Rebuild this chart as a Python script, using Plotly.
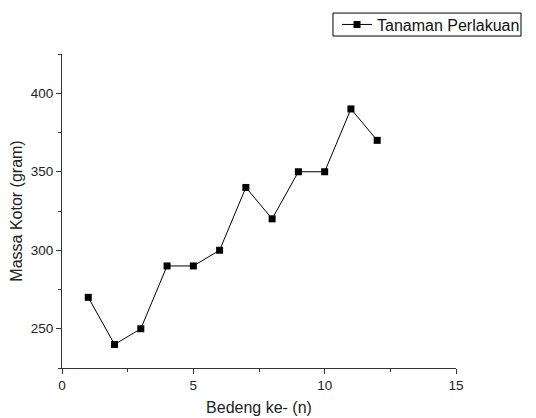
import plotly.graph_objects as go

bedeng = [1, 2, 3, 4, 5, 6, 7, 8, 9, 10, 11, 12]
massa = [270, 240, 250, 290, 290, 300, 340, 320, 350, 350, 390, 370]
series_name = "Tanaman Perlakuan"
x_ticks = [0, 5, 10, 15]
y_ticks = [250, 300, 350, 400]

FONT = "Liberation Sans, Arial"
fig = go.Figure()
fig.add_trace(go.Scatter(
    x=bedeng, y=massa, mode="lines+markers", name=series_name,
    line=dict(color="black", width=1),
    marker=dict(symbol="square", size=7, color="black"),
))

axis_common = dict(
    showgrid=False, zeroline=False, showline=True, linecolor="#333333", linewidth=1,
    ticks="outside", ticklen=5, tickwidth=1, tickcolor="#333333",
    tickfont=dict(family=FONT, size=13.5, color="#222222"),
    mirror=False,
)
fig.update_xaxes(range=[0, 15], tickvals=x_ticks,
                 minor=dict(ticks="outside", ticklen=3, tickcolor="#333333", dtick=2.5, tick0=0),
                 title=dict(text="Bedeng ke- (n)", font=dict(family=FONT, size=16, color="#222222"), standoff=9),
                 **axis_common)
fig.update_yaxes(range=[225, 425], tickvals=y_ticks,
                 minor=dict(ticks="outside", ticklen=3, tickcolor="#333333", dtick=25, tick0=225),
                 title=dict(text="Massa Kotor (gram)", font=dict(family=FONT, size=16, color="#222222"), standoff=4),
                 **axis_common)

# legend frame
fig.add_shape(type="rect", xref="paper", yref="paper",
              x0=0.6878, x1=1.165, y0=1.0572, y1=1.1304,
              line=dict(color="black", width=1), fillcolor="rgba(0,0,0,0)")

fig.update_layout(
    width=528, height=410,
    margin=dict(l=54, r=80, t=46, b=49.5, autoexpand=False),
    paper_bgcolor="white", plot_bgcolor="white",
    showlegend=True,
    legend=dict(x=0.698, xanchor="left", y=1.0938, yanchor="middle",
                xref="paper", yref="paper",
                borderwidth=0, bgcolor="rgba(0,0,0,0)",
                font=dict(family=FONT, size=16, color="#111111"),
                itemwidth=30, tracegroupgap=0),
)
fig.write_html("out.html")
